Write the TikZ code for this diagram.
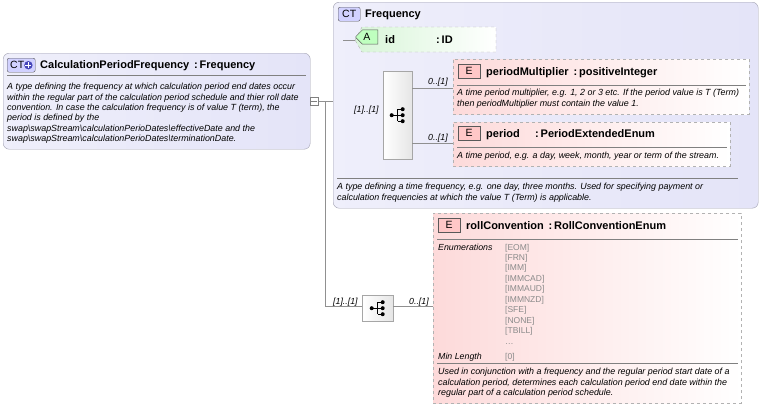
\documentclass[tikz,border=0pt]{standalone}
\usepackage{fontspec}
\setmainfont{Liberation Sans}
\usetikzlibrary{positioning, shapes.misc}

\definecolor{ctfill}{HTML}{E4E4F8}
\definecolor{ctline}{HTML}{A0A0B0}
\definecolor{elfill}{HTML}{FDDADA}
\definecolor{atfill}{HTML}{D8F5D8}
\definecolor{enumgray}{HTML}{8A8A8A}
\definecolor{wire}{HTML}{909090}

\tikzset{
  ctbox/.style = {draw = ctline, rounded corners = 6pt, left color = ctfill!60, right color = ctfill, anchor = north west, inner sep = 0},
  elbox/.style = {draw = gray!60, dashed, left color = elfill, right color = white, anchor = north west, inner sep = 0},
  badge/.style = {draw = gray!70!black, rounded corners = 2pt, fill = #1, minimum width = 22pt, minimum height = 14pt, inner sep = 0, font = \fontsize{10.5}{10}\selectfont, anchor = north west},
  title/.style = {anchor = base west, font = \fontsize{11}{11}\selectfont\bfseries, inner sep = 0},
  desc/.style = {anchor = north west, font = \fontsize{8.9}{10.4}\selectfont\itshape, inner sep = 0, align = left},
  card/.style = {anchor = base west, font = \fontsize{8.8}{9}\selectfont\itshape, inner sep = 0},
  enum/.style = {anchor = base west, font = \fontsize{8.5}{9}\selectfont, text = enumgray, inner sep = 0},
  seqbox/.style = {draw = gray!70, left color = white, right color = gray!20, anchor = north west, inner sep = 0},
  wireline/.style = {draw = wire, line width = 0.6pt}
}

\newcommand{\seqicon}[1]{%
  \fill (#1) ++(-6,0) circle (2);
  \draw[line width = 0.8pt] (#1) ++(-6,0) -- ++(6,0);
  \draw[line width = 0.8pt] (#1) ++(0,-6) -- ++(0,12);
  \foreach \d in {-6,0,6}
  {
    \draw[line width = 0.8pt] (#1) ++(0,\d) -- ++(5,0);
    \fill (#1) ++(5,\d) circle (2);
  }
}

\begin{document}
\begin{tikzpicture}[x = 1pt, y = -1pt]
  \useasboundingbox (0,0) rectangle (762,408);

  % connectors
  \draw[wireline] (318,101) -- (333,101);
  \draw[wireline] (325,101) -- (325,306) -- (362,306);
  \draw[wireline] (343,40) -- (343,115) -- (383,115);

  % main type
  \node[ctbox, minimum width = 307pt, minimum height = 96pt] (calc) at (3,53) {};
  \node[badge = blue!18, minimum width = 28pt, text width = 26pt, align = left] (calcbadge) at (7,58) {\hspace{2pt}CT};
  \fill[blue!45!gray] (calcbadge.east) ++(-7,0) circle (4.2);
  \draw[white, line width = 1.2pt] (calcbadge.east) ++(-10,0) -- ++(6,0) ++(-3,-3) -- ++(0,6);
  \node[title] (calctitle) at (40,68) {CalculationPeriodFrequency \,:\,Frequency};
  \draw[gray] (7,75) -- (306,75);
  \node[desc] (calcdesc) at (7,83) {A type defining the frequency at which calculation period end dates occur\\within the regular part of the calculation period schedule and thier roll date\\convention. In case the calculation frequency is of value T (term), the\\period is defined by the\\swap\textbackslash swapStream\textbackslash calculationPerioDates\textbackslash effectiveDate and the\\swap\textbackslash swapStream\textbackslash calculationPerioDates\textbackslash terminationDate.};
  \node[draw = gray, fill = white, minimum size = 8pt, inner sep = 0] (calcexp) at (314,101) {};
  \draw[gray] (311,101) -- (317,101);

  % base type
  \node[ctbox, minimum width = 425pt, minimum height = 206pt] (freq) at (333,2) {};
  \node[badge = blue!18] (freqbadge) at (338,7) {CT};
  \node[title] (freqtitle) at (365,17) {Frequency};
  \draw[wireline] (343,40) -- (355,40);

  % attribute
  \draw[dashed, gray!60, left color = atfill, right color = white] (355,40) -- (362,27) -- (496,27) -- (496,52) -- (362,52) -- cycle;
  \node[badge = green!25, chamfered rectangle, chamfered rectangle xsep = 3pt, chamfered rectangle corners = {north west, south west}, rounded corners = 0] (idbadge) at (359,33) {A};
  \node[title] (idtitle) at (385,43) {id};
  \node[title] at (436,43) {:\,ID};

  % sequence
  \node[seqbox, minimum width = 29pt, minimum height = 88pt] (seq) at (383,71) {};
  \seqicon{seq.center}
  \node[card] at (354,112) {[1]..[1]};
  \draw[wireline] (412,88) -- (453,88);
  \draw[wireline] (412,143) -- (453,143);
  \node[card] at (428,84) {0..[1]};
  \node[card] at (428,140) {0..[1]};

  % periodMultiplier
  \node[elbox, minimum width = 296pt, minimum height = 55pt] (mult) at (453,59) {};
  \node[badge = red!22, rounded corners = 0] (multbadge) at (458,64) {E};
  \node[title] (multtitle) at (486,75) {periodMultiplier \,:\,positiveInteger};
  \draw[gray] (457,85) -- (746,85);
  \node[desc] (multdesc) at (457,89) {A time period multiplier, e.g. 1, 2 or 3 etc. If the period value is T (Term)\\then periodMultiplier must contain the value 1.};

  % period
  \node[elbox, minimum width = 277pt, minimum height = 44pt] (period) at (453,122) {};
  \node[badge = red!22, rounded corners = 0] (periodbadge) at (458,126) {E};
  \node[title] (periodtitle) at (486,137) {period};
  \node[title] at (535,137) {:\,PeriodExtendedEnum};
  \draw[gray] (457,147) -- (727,147);
  \node[desc] (perioddesc) at (457,152) {A time period, e.g. a day, week, month, year or term of the stream.};

  \draw[gray] (337,178) -- (738,178);
  \node[desc] (freqdesc) at (337,183) {A type defining a time frequency, e.g. one day, three months. Used for specifying payment or\\calculation frequencies at which the value T (Term) is applicable.};

  % roll convention
  \node[seqbox, minimum width = 31pt, minimum height = 26pt] (seq2) at (362,295) {};
  \seqicon{seq2.center}
  \draw[wireline] (393,306) -- (433,306);
  \node[card] at (333,304) {[1]..[1]};
  \node[card] at (409,304) {0..[1]};

  \node[elbox, minimum width = 308pt, minimum height = 190pt] (roll) at (433,213) {};
  \node[badge = red!22, rounded corners = 0] (rollbadge) at (438,218) {E};
  \node[title] (rolltitle) at (466,229) {rollConvention \,:\,RollConventionEnum};
  \draw[gray] (437,239) -- (738,239);
  \node[card] at (438,250) {Enumerations};
  \foreach \v [count = \i from 0] in {EOM,FRN,IMM,IMMCAD,IMMAUD,IMMNZD,SFE,NONE,TBILL}
  {
    \node[enum] at (505,250+10.45*\i) {[\v]};
  }
  \node[enum] at (505,344) {\ldots};
  \node[card] at (438,359) {Min Length};
  \node[enum] at (505,359) {[0]};
  \draw[gray] (437,363) -- (738,363);
  \node[desc] (rolldesc) at (438,368) {Used in conjunction with a frequency and the regular period start date of a\\calculation period, determines each calculation period end date within the\\regular part of a calculation period schedule.};
\end{tikzpicture}
\end{document}
